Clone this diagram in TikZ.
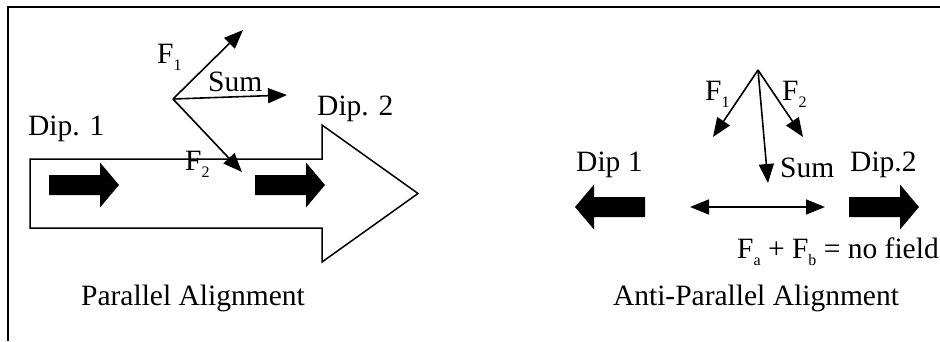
\documentclass[tikz,border=0pt]{standalone}
\usepackage{fontspec}
\setmainfont{Liberation Serif}
\usetikzlibrary{arrows.meta}

\newcommand{\fsub}[1]{\raisebox{-0.24em}{\fontsize{16}{16}\selectfont #1}}

\tikzset{
  lbl/.style={font=\fontsize{29.5}{32}\selectfont, inner sep=0pt},
  tip/.style={-{Triangle[length=19pt,width=15pt]}},
  force/.style={line width=1.6pt, tip},
  dipole/.pic={
    \fill (0,-10) -- (51,-10) -- (51,-22.5) -- (70,0) -- (51,22.5) -- (51,10) -- (0,10) -- cycle;
  },
}

\begin{document}
\begin{tikzpicture}[x=1pt,y=-1pt]
    \useasboundingbox (0,0) rectangle (940,341);
    % Frame
    \draw[line width=1.8pt] (8,341) -- (8,7) -- (940,7);

    % Parallel alignment
    \draw[line width=1.5pt] (30,159) -- (322,159) -- (322,125) -- (418,193.5)
        -- (322,262) -- (322,228) -- (30,228) -- cycle;
    \pic at (49,185) {dipole};
    \pic at (255,185) {dipole};
    \node[lbl, anchor=base west] (pdipone) at (28,135) {Dip. 1};
    \node[lbl, anchor=base west] (pdiptwo) at (317,115) {Dip. 2};

    \coordinate (po) at (173,99);
    \coordinate (pfone) at (243,30);
    \coordinate (psum) at (287,95);
    \coordinate (pftwo) at (242,172);
    \draw[force] (po) -- (pfone);
    \draw[force] (po) -- (psum);
    \draw[force] (po) -- (pftwo);
    \node[lbl, anchor=base west] (pfonelbl) at (157,63) {F\fsub{1}};
    \node[lbl, anchor=base west] (psumlbl) at (208,91) {Sum};
    \node[lbl, anchor=base west] (pftwolbl) at (185,170) {F\fsub{2}};
    \node[lbl, anchor=base] (ptitle) at (193,305) {Parallel Alignment};

    % Anti-parallel alignment
    \pic[xscale=-1] at (645,207) {dipole};
    \pic at (849,207) {dipole};
    \node[lbl, anchor=base west] (adipone) at (576,171) {Dip 1};
    \node[lbl, anchor=base west] (adiptwo) at (850,171) {Dip.2};

    \coordinate (ao) at (758,70);
    \coordinate (afone) at (713,137);
    \coordinate (aftwo) at (803,137);
    \coordinate (asum) at (768,183);
    \draw[force] (ao) -- (afone);
    \draw[force] (ao) -- (aftwo);
    \draw[force] (ao) -- (asum);
    \node[lbl, anchor=base west] (afonelbl) at (705,100) {F\fsub{1}};
    \node[lbl, anchor=base west] (aftwolbl) at (782,100) {F\fsub{2}};
    \node[lbl, anchor=base west] (asumlbl) at (780,177) {Sum};

    \coordinate (aleft) at (690,207);
    \coordinate (aright) at (825,207);
    \draw[force, {Triangle[length=19pt,width=15pt]}-{Triangle[length=19pt,width=15pt]}] (aleft) -- (aright);
    \node[lbl, anchor=base east] (anofield) at (939,258) {F\fsub{a} + F\fsub{b} = no field};
    \node[lbl, anchor=base] (atitle) at (756,305) {Anti-Parallel Alignment};
\end{tikzpicture}
\end{document}
